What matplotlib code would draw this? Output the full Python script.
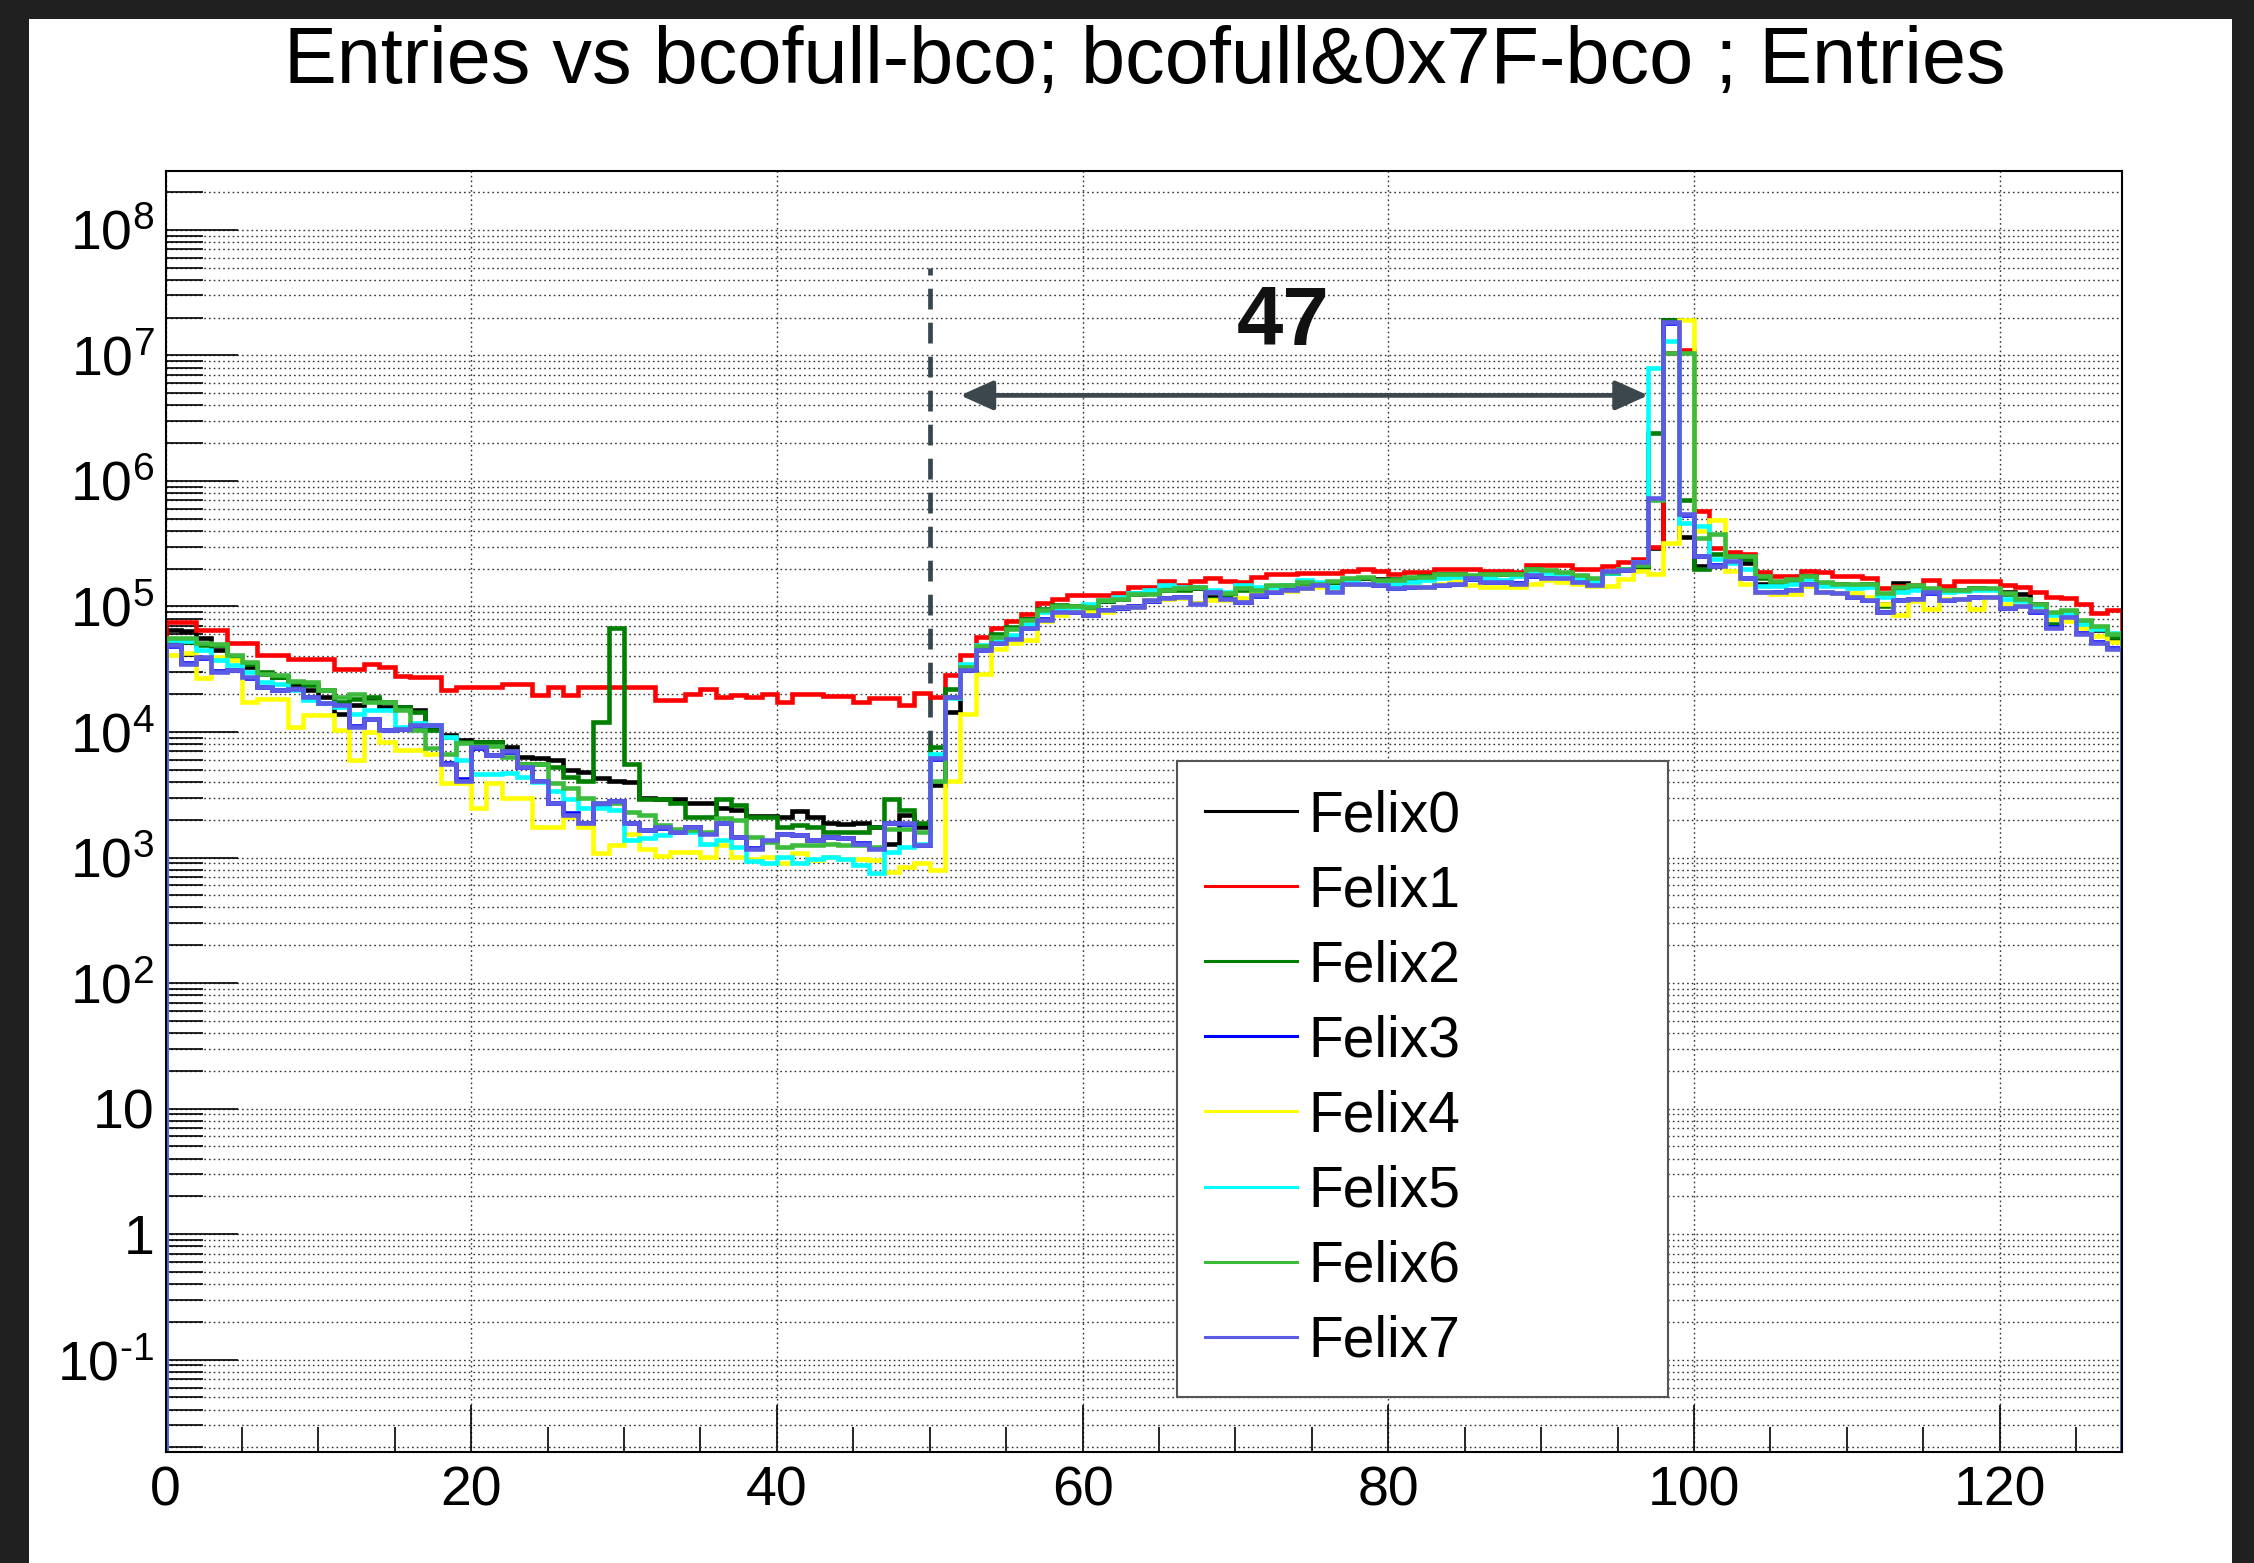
import numpy as np
import matplotlib
matplotlib.use("Agg")
import matplotlib.pyplot as plt
from matplotlib.patches import Rectangle
from matplotlib.ticker import MultipleLocator, FixedLocator, FuncFormatter, NullFormatter

plt.rcParams['font.family'] = ['Liberation Sans', 'DejaVu Sans']
plt.rcParams['mathtext.fontset'] = 'custom'
plt.rcParams['mathtext.rm'] = 'Liberation Sans'
plt.rcParams['mathtext.it'] = 'Liberation Sans:italic'
plt.rcParams['mathtext.bf'] = 'Liberation Sans:bold'

# ---- data (entries per bin, 128 bins of width 1) ----
title = "Entries vs bcofull-bco; bcofull&0x7F-bco ; Entries"
names = ['Felix0', 'Felix1', 'Felix2', 'Felix3', 'Felix4', 'Felix5', 'Felix6', 'Felix7']
colors = ['#000000', '#ff0000', '#007f00', '#0000ff', '#ffff00', '#00ffff', '#3cbb3c', '#5b5be6']
bin_edges = np.arange(0, 129)
y_decades = list(range(-1, 9))

felix0 = [64700, 64000, 56500, 44800, 38400, 33000, 28900, 27500, 24300, 21500,
          19000, 14000, 16400, 18400, 15800, 15800, 14900, 10600, 9400, 8600,
          8300, 8300, 7600, 6300, 6200, 6000, 5000, 4800, 4300, 4100,
          4000, 3000, 2950, 2950, 2700, 2700, 2500, 2400, 2150, 2150,
          2100, 2350, 2100, 1900, 1850, 1870, 1750, 1290, 2200, 1750,
          3800, 14500, 31000, 46000, 58000, 67000, 80000, 94000, 101000, 100000,
          97000, 111000, 115000, 125000, 127000, 135000, 138000, 140000, 120000, 123000,
          138000, 134000, 146000, 146000, 156000, 151000, 158000, 166000, 170000, 165000,
          160000, 170000, 173000, 180000, 181000, 175000, 178000, 180000, 180000, 195000,
          190000, 185000, 172000, 162000, 185000, 195000, 205000, 290000, 1.9e7, 360000,
          210000, 210000, 260000, 220000, 150000, 150000, 160000, 175000, 155000, 150000,
          145000, 150000, 105000, 155000, 145000, 138000, 135000, 135000, 140000, 138000,
          130000, 125000, 105000, 88000, 92000, 75000, 65000, 55000]

felix1 = [75000, 75000, 65000, 65000, 51000, 51000, 41000, 41000, 38000, 38000,
          38000, 32000, 32000, 35000, 33000, 28000, 27500, 27500, 21500, 23000,
          23000, 23000, 24000, 24000, 19600, 23000, 19600, 23000, 23000, 23000,
          23000, 23000, 17900, 17900, 20200, 22200, 19000, 19600, 19000, 20200,
          17400, 20000, 20000, 19300, 19300, 17400, 18500, 18500, 16300, 20500,
          19000, 28300, 41000, 57000, 67000, 76000, 87000, 107000, 114000, 123000,
          123000, 123000, 129000, 142000, 142000, 160000, 148000, 160000, 167000, 160000,
          157000, 172000, 181000, 181000, 185000, 185000, 185000, 192000, 200000, 192000,
          183000, 189000, 189000, 200000, 200000, 200000, 192000, 192000, 188000, 213000,
          213000, 213000, 200000, 200000, 210000, 226000, 240000, 298000, 1.05e7, 1.1e7,
          580000, 290000, 270000, 260000, 188000, 174000, 176000, 190000, 188000, 174000,
          174000, 167000, 139000, 146000, 149000, 162000, 146000, 160000, 160000, 160000,
          149000, 144000, 131000, 119000, 116000, 105000, 88000, 94000]

felix2 = [53900, 52300, 49000, 49000, 39600, 35100, 30000, 27500, 25000, 23600,
          21500, 17400, 18400, 19000, 17400, 15800, 14400, 10300, 9100, 8300,
          8300, 8300, 7000, 5600, 5600, 5300, 4400, 4100, 12000, 67000,
          5600, 2950, 2950, 2700, 2100, 2100, 2900, 2600, 2100, 2100,
          1750, 1800, 1750, 1600, 1600, 1600, 1750, 2950, 2400, 1870,
          7600, 22000, 33000, 48000, 60000, 68000, 80000, 95000, 102000, 101000,
          95000, 110000, 116000, 128000, 128000, 137000, 135000, 140000, 115000, 120000,
          136000, 133000, 145000, 148000, 155000, 150000, 158000, 165000, 168000, 160000,
          165000, 170000, 175000, 180000, 180000, 176000, 180000, 180000, 180000, 198000,
          192000, 186000, 175000, 165000, 187000, 198000, 210000, 2.4e6, 1.9e7, 700000,
          200000, 260000, 250000, 240000, 170000, 155000, 160000, 175000, 155000, 150000,
          148000, 150000, 100000, 140000, 145000, 138000, 133000, 135000, 140000, 138000,
          125000, 112000, 102000, 72000, 90000, 75000, 68000, 57000]

felix3 = [48000, 35500, 39000, 30500, 31000, 27000, 23000, 21500, 22000, 19000,
          17000, 16200, 11200, 12600, 10400, 10500, 11200, 11300, 5700, 4200,
          7500, 6500, 6900, 5300, 4100, 2700, 2250, 1900, 2650, 2800,
          1900, 1650, 1720, 1600, 1750, 1560, 1880, 1460, 1200, 1360,
          1540, 1500, 1380, 1450, 1420, 1300, 1190, 1880, 1850, 1260,
          6100, 19000, 31000, 45000, 51000, 56000, 67000, 79000, 90000, 91000,
          86000, 93000, 98000, 100000, 111000, 117000, 118000, 106000, 130000, 115000,
          109000, 122000, 130000, 135000, 140000, 146000, 132000, 151000, 152000, 147000,
          140000, 143000, 144000, 147000, 151000, 165000, 157000, 156000, 153000, 176000,
          167000, 166000, 157000, 148000, 188000, 194000, 226000, 720000, 1.8e7, 540000,
          250000, 212000, 228000, 170000, 131000, 130000, 136000, 150000, 131000, 127000,
          120000, 112000, 91000, 112000, 115000, 129000, 113000, 114000, 118000, 120000,
          98000, 100000, 91000, 68000, 82000, 61000, 52000, 47000]

felix4 = [41000, 42200, 26700, 39600, 37300, 17400, 18400, 18400, 11000, 13600,
          13600, 10300, 6000, 10000, 8300, 7200, 7200, 6700, 3900, 3900,
          2500, 3900, 3000, 3000, 1750, 1750, 2100, 1750, 1080, 1250,
          1550, 1180, 1020, 1100, 1100, 1010, 1250, 1010, 980, 1010,
          900, 1080, 950, 1010, 980, 980, 950, 770, 840, 900,
          790, 4100, 14000, 29000, 46000, 51000, 54000, 76000, 86000, 95000,
          90000, 91000, 99000, 99000, 112000, 114000, 117000, 107000, 112000, 112000,
          117000, 132000, 132000, 132000, 139000, 143000, 132000, 152000, 152000, 152000,
          152000, 152000, 143000, 152000, 162000, 147000, 143000, 143000, 143000, 152000,
          162000, 157000, 152000, 145000, 146000, 165000, 190000, 180000, 320000, 1.9e7,
          400000, 490000, 190000, 150000, 130000, 125000, 125000, 145000, 130000, 127000,
          127000, 120000, 105000, 85000, 110000, 96000, 115000, 115000, 96000, 120000,
          105000, 100000, 95000, 80000, 76000, 67000, 58000, 52000]

felix5 = [53900, 53000, 44800, 37300, 34000, 30000, 25000, 24300, 21500, 17900,
          16900, 15800, 14000, 14900, 14900, 11000, 11700, 11300, 9100, 6000,
          4600, 4600, 4700, 4400, 4000, 3400, 2900, 2500, 2500, 2400,
          1370, 1420, 1500, 1650, 1600, 1290, 1370, 1220, 930, 900,
          1010, 900, 980, 1010, 980, 870, 750, 1100, 1220, 1290,
          6700, 18500, 35000, 49000, 54000, 59000, 73000, 90000, 93000, 99000,
          105000, 112000, 119000, 127000, 135000, 147000, 143000, 143000, 135000, 131000,
          147000, 143000, 143000, 147000, 162000, 157000, 143000, 157000, 152000, 152000,
          152000, 157000, 162000, 167000, 172000, 167000, 167000, 162000, 175000, 190000,
          185000, 180000, 170000, 160000, 185000, 200000, 225000, 7.9e6, 1.3e7, 460000,
          440000, 240000, 220000, 200000, 145000, 145000, 150000, 165000, 145000, 145000,
          140000, 142000, 120000, 130000, 135000, 135000, 130000, 132000, 135000, 135000,
          115000, 110000, 100000, 85000, 88000, 72000, 66000, 62000]

felix6 = [55600, 55600, 50700, 50000, 40900, 36200, 29200, 28300, 25500, 25000,
          21500, 19000, 20200, 17400, 17400, 14900, 10300, 7400, 6700, 8100,
          7800, 7800, 6300, 5600, 5600, 3900, 3550, 3000, 2700, 2700,
          2300, 2200, 1800, 1700, 1650, 1600, 2050, 2000, 1460, 1330,
          1220, 1260, 1260, 1290, 1260, 1260, 1220, 1700, 1700, 1600,
          4100, 19000, 33000, 48000, 57000, 66000, 78500, 93000, 100000, 100000,
          99000, 112000, 115000, 126000, 126000, 136000, 139000, 143000, 131000, 127000,
          139000, 135000, 147000, 147000, 158000, 152000, 160000, 167000, 172000, 162000,
          162000, 172000, 172000, 183000, 183000, 178000, 183000, 183000, 183000, 200000,
          194000, 189000, 177000, 167000, 189000, 200000, 214000, 700000, 1.05e7, 1.05e7,
          350000, 380000, 250000, 250000, 175000, 160000, 165000, 175000, 158000, 152000,
          150000, 152000, 128000, 143000, 147000, 140000, 135000, 136000, 141000, 139000,
          127000, 115000, 105000, 90000, 93000, 78000, 70000, 60000]

felix7 = [49000, 35100, 39600, 30000, 31000, 27500, 22900, 21500, 22200, 19000,
          16900, 16400, 11000, 12800, 10300, 10600, 11300, 11300, 5600, 4100,
          7600, 6500, 7000, 5300, 4100, 2700, 2200, 1870, 2700, 2800,
          1900, 1650, 1750, 1600, 1750, 1550, 1900, 1460, 1180, 1370,
          1550, 1500, 1370, 1460, 1420, 1290, 1180, 1900, 1870, 1250,
          6200, 19000, 31000, 45000, 51000, 55000, 67000, 78000, 91000, 91000,
          85000, 93000, 99000, 99000, 112000, 117000, 119000, 105000, 131000, 114000,
          108000, 123000, 131000, 135000, 139000, 147000, 131000, 152000, 152000, 147000,
          139000, 143000, 143000, 147000, 152000, 167000, 157000, 157000, 152000, 177000,
          167000, 167000, 157000, 147000, 190000, 194000, 228000, 730000, 1.85e7, 550000,
          250000, 210000, 230000, 170000, 130000, 130000, 135000, 152000, 130000, 127000,
          119000, 112000, 90000, 112000, 114000, 130000, 112000, 114000, 119000, 120000,
          97000, 100000, 92000, 67000, 83000, 60000, 51000, 46000]

series = [felix0, felix1, felix2, felix3, felix4, felix5, felix6, felix7]

# annotation: dashed marker at bin 50 and the 47-bin span to the peak
marker_x = 50
marker_span = (7e3, 5e7)
arrow_x = (52.0, 97.0)
arrow_y = 4.8e6
label_text = '47'
label_pos = (73.1, 1.2e7)

# ---- figure ----
W, H = 2254, 1563
fig = plt.figure(figsize=(W / 100, H / 100), dpi=100, facecolor='#202020')
fig.add_artist(Rectangle((29 / W, 0), (2232 - 29) / W, (H - 19) / H,
                         transform=fig.transFigure, facecolor='white',
                         edgecolor='none', zorder=-5))

ax = fig.add_axes([165.5 / W, (H - 1452) / H, (2122 - 165.5) / W, (1452 - 171.4) / H])
ax.set_facecolor('white')

for vals, name, col in zip(series, names, colors):
    ax.stairs(vals, bin_edges, baseline=1e-3, color=col, lw=3.3, label=name, zorder=2)

ax.vlines(marker_x, marker_span[0], marker_span[1], colors='#37474f', lw=3.4,
          linestyles=(0, (4.4, 2.8)), zorder=1.8)
ax.annotate('', xy=(arrow_x[1], arrow_y), xytext=(arrow_x[0], arrow_y),
            arrowprops=dict(arrowstyle='<|-|>,head_length=1.0,head_width=0.45',
                            mutation_scale=20, lw=3.4, color='#3b474d',
                            shrinkA=0, shrinkB=0), zorder=3)
ax.text(label_pos[0], label_pos[1], label_text, fontsize=60, fontweight='bold',
        ha='center', va='baseline', color='#111111', zorder=3)

ax.set_yscale('log')
ax.set_xlim(0, 128)
ax.set_ylim(0.0184, 2.92e8)

ax.xaxis.set_major_locator(MultipleLocator(20))
ax.xaxis.set_minor_locator(MultipleLocator(5))
major_y = [10.0 ** e for e in y_decades]
minor_y = [m * 10.0 ** e for e in range(-2, 9) for m in range(2, 10)]
minor_y = [v for v in minor_y if 0.0184 <= v <= 2.92e8]
ax.yaxis.set_major_locator(FixedLocator(major_y))
ax.yaxis.set_minor_locator(FixedLocator(minor_y))


def ylab(v, pos):
    e = int(round(np.log10(v)))
    if e == 0:
        return '1'
    if e == 1:
        return '10'
    if e < 0:
        return r'$\mathregular{10^{\text{-}%d}}$' % (-e)
    return r'$\mathregular{10^{%d}}$' % e


ax.yaxis.set_major_formatter(FuncFormatter(ylab))
ax.yaxis.set_minor_formatter(NullFormatter())

ax.tick_params(axis='y', which='major', direction='in', length=52, width=1.2,
               labelsize=40, pad=8, right=False)
ax.tick_params(axis='y', which='minor', direction='in', length=26.5, width=1.2, right=False)
ax.tick_params(axis='x', which='major', direction='in', length=34, width=1.2,
               labelsize=40, pad=10, top=False)
ax.tick_params(axis='x', which='minor', direction='in', length=18, width=1.2, top=False)

grid_kw = dict(color='#333333', lw=1.0, ls=(0, (1.2, 2.2)))
ax.grid(True, which='major', axis='x', **grid_kw)
ax.grid(True, which='both', axis='y', **grid_kw)

for sp in ax.spines.values():
    sp.set_linewidth(1.5)

leg = ax.legend(loc='lower left', bbox_to_anchor=(0.517, 0.0429, 0.251, 0.498),
                mode='expand', borderaxespad=0, fontsize=41, handlelength=1.6,
                handletextpad=0.2, labelspacing=0.37, borderpad=0.5,
                fancybox=False, framealpha=1, edgecolor='#555555')
leg.get_frame().set_linewidth(1.5)
for line in leg.get_lines():
    line.set_linewidth(2.2)

fig.text(0.5077, 1 - 83 / H, title, ha='center', va='baseline', fontsize=57)

fig.savefig('out.png', dpi=100, facecolor=fig.get_facecolor())
